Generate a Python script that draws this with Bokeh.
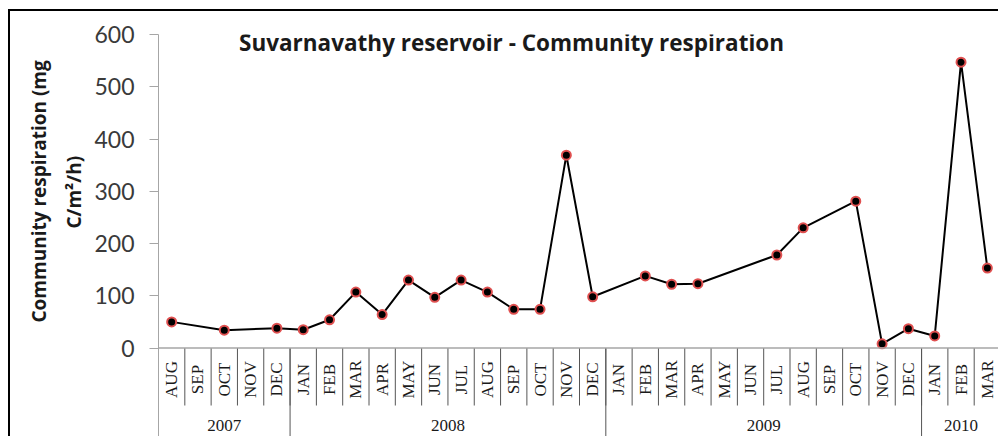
import math
from bokeh.plotting import figure
from bokeh.models import Range1d, FixedTicker, Span, Label, Title
from bokeh.core.properties import value
from bokeh.embed import file_html
from bokeh.resources import INLINE

# ---- data ----
years = ["2007", "2008", "2009", "2010"]
months_per_year = [
    ["AUG", "SEP", "OCT", "NOV", "DEC"],
    ["JAN", "FEB", "MAR", "APR", "MAY", "JUN", "JUL", "AUG", "SEP", "OCT", "NOV", "DEC"],
    ["JAN", "FEB", "MAR", "APR", "MAY", "JUN", "JUL", "AUG", "SEP", "OCT", "NOV", "DEC"],
    ["JAN", "FEB", "MAR"],
]
respiration = [50, None, 34, None, 38,
               35, 54, 107, 64, 130, 97, 130, 107, 74, 74, 369, 98,
               None, 138, 122, 123, None, None, 178, 230, None, 281, 8, 37,
               23, 547, 153]
y_ticks = [0, 100, 200, 300, 400, 500, 600]

title_text = "Suvarnavathy reservoir - Community respiration"
ylabel_lines = ["Community respiration (mg", "C/m\u00b2/h)"]

# ---- derived ----
month_labels = [m for ms in months_per_year for m in ms]
n = len(month_labels)
xc = [i + 0.5 for i in range(n)]
pts_x = [xc[i] for i, v in enumerate(respiration) if v is not None]
pts_y = [v for v in respiration if v is not None]

year_bounds = [0]
for ms in months_per_year:
    year_bounds.append(year_bounds[-1] + len(ms))
year_centers = [(year_bounds[i] + year_bounds[i + 1]) / 2 for i in range(len(years))]

# layout (pixels, page coords)
fig_top = 11
fig_left = 10
frame_top = 34
frame_left = 158
zero_px = 347.5
fig_w, fig_h = 990, 438 - fig_top
px_per_unit = (zero_px - frame_top) / 600.0
px_per_cat = (fig_left + fig_w - frame_left) / n
y_bottom = -(438 - zero_px) / px_per_unit
month_sep_bottom = -(405 - zero_px) / px_per_unit
month_label_y = -(379 - zero_px) / px_per_unit
year_label_y = -(425 - zero_px) / px_per_unit

p = figure(width=fig_w, height=fig_h, output_backend="svg", toolbar_location=None,
           x_range=Range1d(0, n), y_range=Range1d(y_bottom, 600),
           min_border_left=frame_left - fig_left, min_border_right=0,
           min_border_top=frame_top - fig_top, min_border_bottom=0)
p.styles = {"margin-left": "8px", "margin-top": "9px",
            "border-left": "2px solid #000", "border-top": "2px solid #000"}
p.outline_line_color = None
p.xaxis.visible = False
p.xgrid.visible = False
p.ygrid.visible = False

ax = p.yaxis[0]
ax.ticker = FixedTicker(ticks=y_ticks)
ax.axis_line_color = "#a6a6a6"
ax.major_tick_line_color = "#a6a6a6"
ax.major_tick_out = 9
ax.major_tick_in = 0
ax.minor_tick_line_color = None
ax.major_label_standoff = 15
ax.major_label_text_font = "Lato"
ax.major_label_text_font_size = "23px"
ax.major_label_text_color = "#3a3a3a"

# y label: two lines, bottom-anchored and lifted (px) so each is centred on the value axis
for line, standoff, lift in zip(reversed(ylabel_lines), [10, 4], [210, 116]):
    t = Title(text=line, align="left", offset=lift, standoff=standoff,
              text_font="Open Sans", text_font_style="bold", text_font_size="19px",
              text_color="#1a1a1a")
    p.add_layout(t, "left")

# zero line
p.add_layout(Span(location=0, dimension="width", line_color="#a6a6a6", line_width=1.5))

# month separators
p.segment(x0=list(range(1, n + 1)), y0=[0] * n, x1=list(range(1, n + 1)), y1=[month_sep_bottom] * n,
          line_color="#555555", line_width=1)
# year separators
p.segment(x0=year_bounds[1:], y0=[0] * len(years), x1=year_bounds[1:], y1=[y_bottom] * len(years),
          line_color="#555555", line_width=1)

# month labels
p.text(x=xc, y=[month_label_y] * n, text=month_labels, angle=math.pi / 2,
       text_align="center", text_baseline="middle", text_font=value("Liberation Serif"),
       text_font_size="17px", text_color="#1a1a1a")
# year labels
p.text(x=year_centers, y=[year_label_y] * len(years), text=years,
       text_align="center", text_baseline="middle", text_font=value("Liberation Serif"),
       text_font_size="17px", text_color="#1a1a1a")

# series
p.line(pts_x, pts_y, line_color="black", line_width=2)
p.scatter(pts_x, pts_y, size=9, fill_color="black", line_color="#e05050", line_width=2)

# title
p.add_layout(Label(x=(511 - frame_left) / px_per_cat, y=(zero_px - 42) / px_per_unit, text=title_text,
                   text_align="center", text_baseline="middle", text_font="Open Sans",
                   text_font_style="bold", text_font_size="22.5px", text_color="#1a1a1a"))

open("out.html", "w").write(file_html(p, INLINE))
